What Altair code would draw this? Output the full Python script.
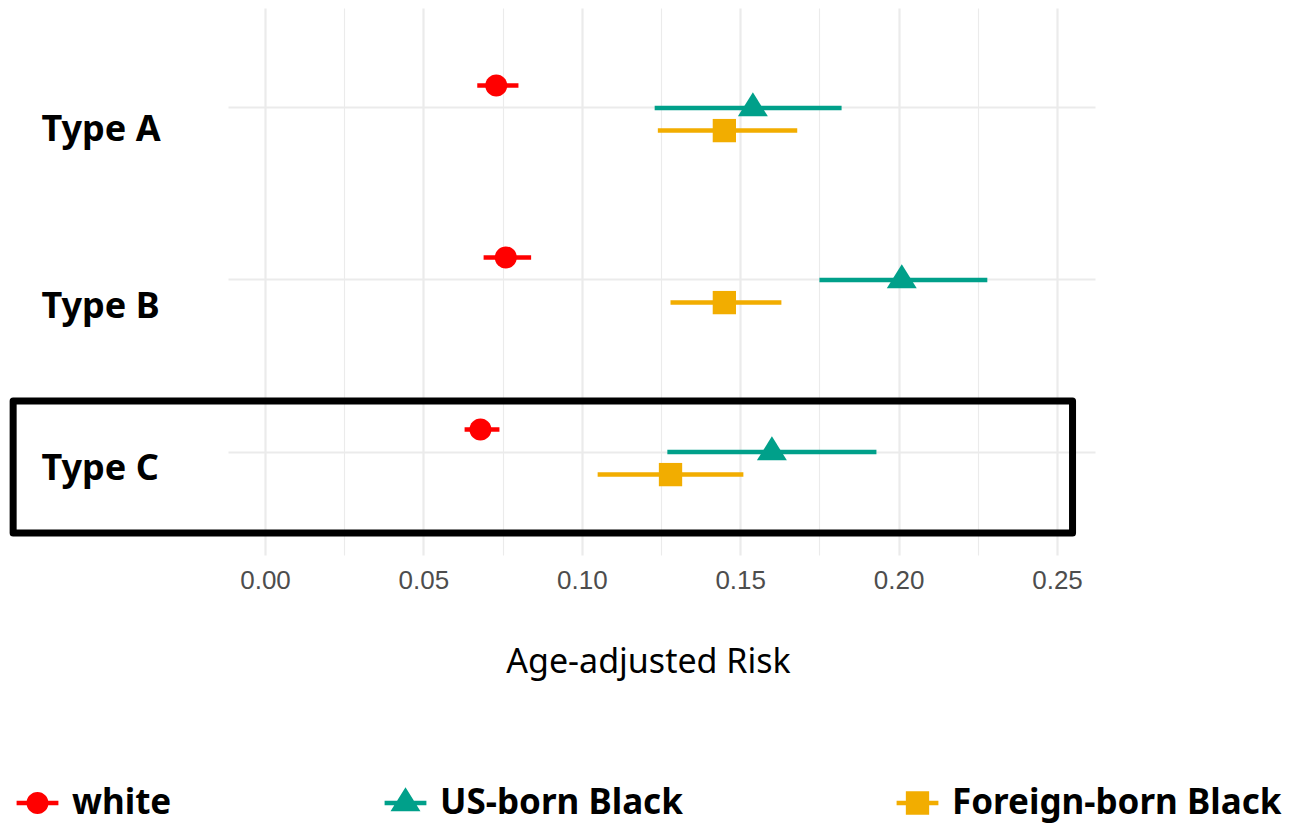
import altair as alt
import pandas as pd

# ---- data ----
type_order = ["Type A", "Type B", "Type C"]
groups = ["white", "US-born Black", "Foreign-born Black"]
colors = ["#FF0000", "#00A08A", "#F2AD00"]

types = ["Type A", "Type A", "Type A",
         "Type B", "Type B", "Type B",
         "Type C", "Type C", "Type C"]
group_col = groups * 3
est = [0.073, 0.154, 0.145, 0.076, 0.201, 0.145, 0.068, 0.160, 0.128]
lo = [0.067, 0.123, 0.124, 0.069, 0.175, 0.128, 0.063, 0.127, 0.105]
hi = [0.080, 0.182, 0.168, 0.084, 0.228, 0.163, 0.074, 0.193, 0.151]

x_ticks = [0.0, 0.025, 0.05, 0.075, 0.10, 0.125, 0.15, 0.175, 0.20, 0.225, 0.25]

# highlight box (annotation)
box_type = ["Type C"]
box_xmin = [-0.0795]
box_xmax = [0.2549]

df = pd.DataFrame({"type": types, "group": group_col, "est": est, "lo": lo, "hi": hi})
box_df = pd.DataFrame({"type": box_type, "type2": box_type, "xmin": box_xmin, "xmax": box_xmax})

# symbol paths (unit box -1..1)
circle = "M0.5,0A0.5,0.5,0,1,1,-0.5,0A0.5,0.5,0,1,1,0.5,0Z"
tri = "M0,-0.72L0.68,0.38L-0.68,0.38Z"
sq = "M-0.53,-0.53H0.53V0.53H-0.53Z"
bar = "M-0.95,-0.1H0.95V0.1H-0.95Z"
point_shapes = [circle, tri, sq]
legend_shapes = [bar + circle, bar + tri, bar + sq]

XTITLE = "Age-adjusted Risk"

x_scale = alt.Scale(domain=[-0.01168, 0.26199], nice=False, zero=False)
x_axis = alt.Axis(
    values=x_ticks,
    grid=True,
    gridColor="#EBEBEB",
    gridWidth={"condition": {"test": "round(datum.value*1000) % 50 === 0", "value": 2.2}, "value": 1.1},
    labelExpr="round(datum.value*1000) % 50 === 0 ? format(datum.value, '.2f') : ''",
    domain=False,
    ticks=False,
    tickSize=0,
    labelFont="Liberation Sans",
    labelFontSize=26,
    labelColor="#4D4D4D",
    labelBaseline="alphabetic",
    labelPadding=33,
    labelFlush=False,
    labelOverlap=False,
    titleFont="Noto Sans",
    titleFontSize=34,
    titleFontWeight="normal",
    titleColor="black",
    titleX=420,
    titleY=117,
    titleBaseline="alphabetic",
    titleAlign="center",
)

y_scale = alt.Scale(type="band", paddingInner=0, paddingOuter=0.0901, align=0.4516)
y_axis = alt.Axis(
    grid=True,
    gridColor="#EBEBEB",
    gridWidth=2.2,
    bandPosition=0.5,
    domain=False,
    ticks=False,
    tickSize=0,
    labelFont="Noto Sans",
    labelFontSize=36,
    labelFontWeight="bold",
    labelColor="black",
    labelAlign="left",
    labelBaseline="alphabetic",
    labelPadding=187,
    labelLimit=400,
    labelOffset={"condition": [
        {"test": "datum.value === 'Type B'", "value": 38},
        {"test": "datum.value === 'Type C'", "value": 28},
    ], "value": 32.7},
)

y_enc = alt.Y("type:N", sort=type_order, scale=y_scale, axis=y_axis, title=None)
yoff = alt.YOffset("group:N", sort=groups,
                   scale=alt.Scale(type="point", padding=0, range=[63.4, 108.6]))

base = alt.Chart(df)

rules = base.mark_rule(strokeWidth=4.5).encode(
    x=alt.X("lo:Q", scale=x_scale, axis=x_axis, title=XTITLE),
    x2="hi:Q",
    y=y_enc,
    yOffset=yoff,
    color=alt.Color("group:N", sort=groups, scale=alt.Scale(domain=groups, range=colors), legend=None),
)

points = base.mark_point(filled=True, size=1936, opacity=1, strokeWidth=0).encode(
    x=alt.X("est:Q", scale=x_scale, title=XTITLE),
    y=y_enc,
    yOffset=yoff,
    color=alt.Color("group:N", sort=groups, scale=alt.Scale(domain=groups, range=colors), legend=None),
    shape=alt.Shape("group:N", sort=groups, scale=alt.Scale(domain=groups, range=point_shapes), legend=None),
)

leg = alt.Legend(
    title=None,
    orient="none",
    legendX=-212.5,
    legendY=773,
    direction="horizontal",
    columns=3,
    columnPadding=212,
    labelFont="Noto Sans",
    labelFontSize=35,
    labelFontWeight="bold",
    labelColor="black",
    labelOffset=12.5,
    labelLimit=500,
    symbolSize=1936,
    symbolStrokeWidth=0,
    symbolOpacity=1,
    padding=0,
)

legend_layer = base.mark_point(filled=True, size=1936, opacity=0).encode(
    x=alt.X("est:Q", scale=x_scale, title=XTITLE),
    y=y_enc,
    yOffset=yoff,
    color=alt.Color("group:N", sort=groups, scale=alt.Scale(domain=groups, range=colors), legend=leg),
    shape=alt.Shape("group:N", sort=groups, scale=alt.Scale(domain=groups, range=legend_shapes), legend=leg),
)

box = alt.Chart(box_df).mark_rect(
    fillOpacity=0,
    stroke="black",
    strokeWidth=7,
    strokeJoin="round",
    yOffset=-51,
    y2Offset=81,
    clip=False,
).encode(
    x=alt.X("xmin:Q", scale=x_scale, title=XTITLE),
    x2="xmax:Q",
    y=alt.Y("type:N", sort=type_order, title=None, bandPosition=0.5),
    y2=alt.Y2("type2", bandPosition=0.5),
)

chart = alt.layer(rules, points, legend_layer, box).resolve_scale(
    color="independent", shape="independent"
).properties(
    width=867,
    height=547,
    autosize=alt.AutoSizeParams(type="none"),
    padding={"left": 220, "top": 0, "right": 200, "bottom": 270},
    background="white",
).configure_view(stroke=None)

chart.save("out.html", embed_options={"renderer": "svg", "actions": False})
